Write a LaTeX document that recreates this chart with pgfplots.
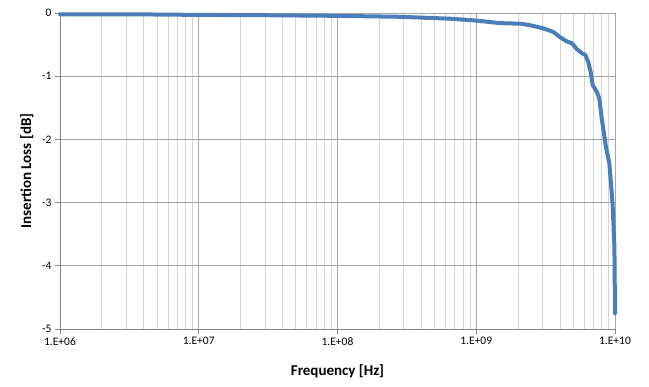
\documentclass[border=0pt]{standalone}
\usepackage{pgfplots}
\pgfplotsset{compat=1.18}
\usepackage{fontspec}
\setmainfont{Carlito}
\definecolor{lineblue}{HTML}{4A7EBB}
\definecolor{majgrid}{HTML}{A6A6A6}
\definecolor{mingrid}{HTML}{D4D4D4}
\definecolor{axgray}{HTML}{868686}
\begin{document}
\begin{tikzpicture}
\begin{axis}[
  xmode=log,
  scale only axis,
  width=555pt, height=316pt,
  xmin=1e6, xmax=1e10,
  ymin=-5, ymax=0,
  ytick={-5,-4,-3,-2,-1,0},
  yticklabels={-5,-4,-3,-2,-1,0},
  xtick={1e6,1e7,1e8,1e9,1e10},
  xticklabels={1.E+06,1.E+07,1.E+08,1.E+09,1.E+10},
  minor xtick={2e6,3e6,4e6,5e6,6e6,7e6,8e6,9e6,2e7,3e7,4e7,5e7,6e7,7e7,8e7,9e7,2e8,3e8,4e8,5e8,6e8,7e8,8e8,9e8,2e9,3e9,4e9,5e9,6e9,7e9,8e9,9e9},
  axis lines*=left,
  axis line style={axgray, -},
  tick style={axgray, line width=0.6pt},
  tick align=outside,
  major tick length=5pt,
  minor tick length=0pt,
  grid=both,
  major grid style={majgrid, line width=0.6pt},
  minor grid style={mingrid, line width=0.6pt},
  extra x ticks={1e10},
  extra x tick labels={},
  extra x tick style={grid=major, tick style={draw=none}},
  ticklabel style={font=\fontsize{11.5}{13}\selectfont, text=black},
  /pgf/number format/assume math mode=true,
  xlabel={\textbf{Frequency [Hz]}},
  ylabel={\textbf{Insertion Loss [dB]}},
  label style={font=\fontsize{15}{17}\selectfont},
  xlabel style={yshift=-2pt},
  ylabel style={yshift=2pt},
  clip=false,
]
\addplot[lineblue, line width=4pt, line join=round, line cap=round] coordinates {
(1e6,-0.02) (3e6,-0.02) (1e7,-0.03) (3e7,-0.035) (1e8,-0.045) (2.8e8,-0.06)
(6.5e8,-0.09) (1e9,-0.12) (1.48e9,-0.16) (2.1e9,-0.17) (2.4e9,-0.19)
(3.0e9,-0.24) (3.2e9,-0.26) (3.6e9,-0.30) (4.0e9,-0.38) (4.5e9,-0.45)
(4.9e9,-0.48) (5.3e9,-0.57) (5.8e9,-0.64) (6.1e9,-0.66) (6.4e9,-0.77)
(6.7e9,-0.95) (6.9e9,-1.14) (7.4e9,-1.25) (7.7e9,-1.35) (8.0e9,-1.65)
(8.6e9,-2.12) (9.1e9,-2.38) (9.6e9,-3.01) (9.9e9,-3.70) (1.0e10,-4.75)
};
\end{axis}
\path ([xshift=-60pt,yshift=-58pt]current axis.south west) rectangle ([xshift=34pt,yshift=13pt]current axis.north east);
\end{tikzpicture}
\end{document}
